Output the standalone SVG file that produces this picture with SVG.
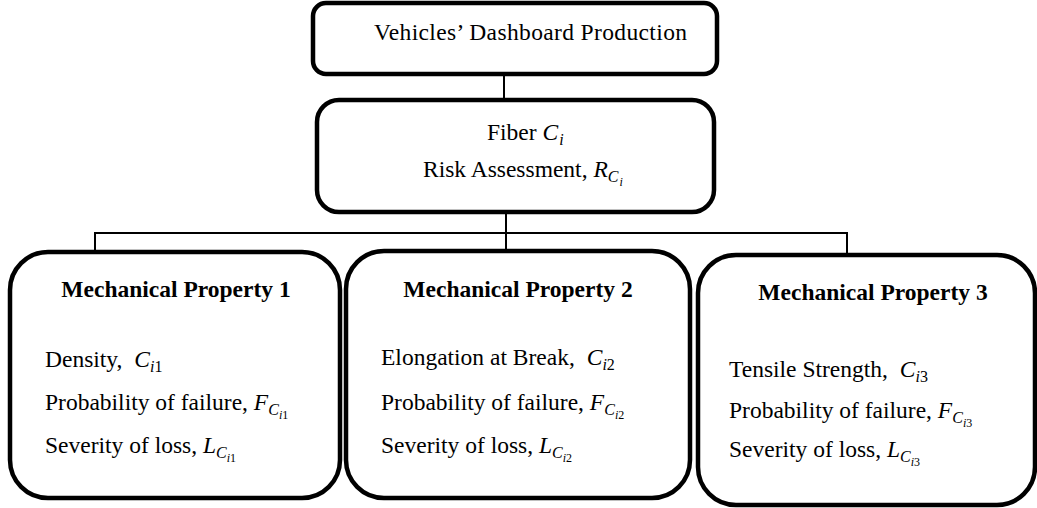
<svg xmlns="http://www.w3.org/2000/svg" width="1037" height="508" viewBox="0 0 1037 508">
<style>
.box{fill:#fff;stroke:#000;stroke-width:4.5}
.ln{stroke:#000;stroke-width:2;fill:none}
text{font-family:"Liberation Serif","Times New Roman",serif;font-size:23.5px;fill:#000}
.b{font-weight:bold}
.i{font-style:italic}
.s{font-size:16px}
.ss{font-size:12px}
</style>
<rect width="1037" height="508" fill="#fff"/>
<g id="connectors">
<line class="ln" x1="504" y1="74" x2="504" y2="100"/>
<line class="ln" x1="506" y1="212" x2="506" y2="252"/>
<polyline class="ln" points="95,256 95,233 847,233 847,254"/>
</g>
<g id="top">
<rect class="box" x="313" y="3" width="404" height="71" rx="13"/>
<text x="374" y="40" textLength="313">Vehicles’ Dashboard Production</text>
</g>
<g id="fiber">
<rect class="box" x="317" y="100" width="397" height="112" rx="22"/>
<text x="487" y="140">Fiber <tspan class="i">C</tspan><tspan class="i s" dx="1" dy="5">i</tspan></text>
<text x="423" y="177">Risk Assessment, <tspan class="i">R</tspan><tspan class="i s" dy="5">C</tspan><tspan class="i ss" dx="1" dy="4">i</tspan></text>
</g>
<g id="mp1">
<rect class="box" x="10" y="252" width="330" height="246" rx="38"/>
<text class="b" x="176" y="297" text-anchor="middle">Mechanical Property 1</text>
<text x="45" y="367">Density, <tspan class="i" dx="6">C</tspan><tspan class="s" dy="5"><tspan class="i">i</tspan>1</tspan></text>
<text x="45" y="410">Probability of failure, <tspan class="i">F</tspan><tspan class="i s" dy="5">C</tspan><tspan class="ss" dy="4"><tspan class="i">i</tspan>1</tspan></text>
<text x="45" y="453">Severity of loss, <tspan class="i">L</tspan><tspan class="i s" dy="5">C</tspan><tspan class="ss" dy="4"><tspan class="i">i</tspan>1</tspan></text>
</g>
<g id="mp2">
<rect class="box" x="346" y="251" width="344" height="247" rx="38"/>
<text class="b" x="518" y="297" text-anchor="middle">Mechanical Property 2</text>
<text x="381" y="365">Elongation at Break, <tspan class="i" dx="6">C</tspan><tspan class="s" dy="5"><tspan class="i">i</tspan>2</tspan></text>
<text x="381" y="410">Probability of failure, <tspan class="i">F</tspan><tspan class="i s" dy="5">C</tspan><tspan class="ss" dy="4"><tspan class="i">i</tspan>2</tspan></text>
<text x="381" y="453">Severity of loss, <tspan class="i">L</tspan><tspan class="i s" dy="5">C</tspan><tspan class="ss" dy="4"><tspan class="i">i</tspan>2</tspan></text>
</g>
<g id="mp3">
<rect class="box" x="698" y="255" width="337" height="250" rx="38"/>
<text class="b" x="873" y="300" text-anchor="middle">Mechanical Property 3</text>
<text x="729" y="377">Tensile Strength, <tspan class="i" dx="6">C</tspan><tspan class="s" dy="5"><tspan class="i">i</tspan>3</tspan></text>
<text x="729" y="418">Probability of failure, <tspan class="i">F</tspan><tspan class="i s" dy="5">C</tspan><tspan class="ss" dy="4"><tspan class="i">i</tspan>3</tspan></text>
<text x="729" y="457">Severity of loss, <tspan class="i">L</tspan><tspan class="i s" dy="5">C</tspan><tspan class="ss" dy="4"><tspan class="i">i</tspan>3</tspan></text>
</g>
</svg>
